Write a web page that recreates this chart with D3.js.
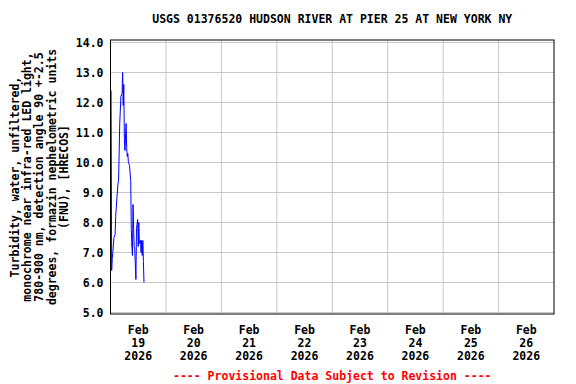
<!DOCTYPE html>
<html>
<head>
<meta charset="utf-8">
<script src="https://cdn.jsdelivr.net/npm/d3@7"></script>
<style>
  body { margin: 0; background: #fff; }
  text { font-family: "DejaVu Sans Mono", monospace; font-weight: bold; }
</style>
</head>
<body>
<div id="chart"></div>
<script>
// chart text
let title = "USGS 01376520 HUDSON RIVER AT PIER 25 AT NEW YORK NY";
let yLabelLines = [
  "Turbidity, water, unfiltered,",
  "monochrome near infra-red LED light,",
  "780-900 nm, detection angle 90 +-2.5",
  "degrees, formazin nephelometric units",
  "(FNU), [HRECOS]"
];
let footer = "---- Provisional Data Subject to Revision ----";

// axis values
let yTicks = [5, 6, 7, 8, 9, 10, 11, 12, 13, 14];
let dayTicks = ["2026-02-19", "2026-02-20", "2026-02-21", "2026-02-22",
  "2026-02-23", "2026-02-24", "2026-02-25", "2026-02-26"];

// turbidity readings, Feb 19 2026 (time of day, FNU)
let times = ["00:15", "00:30", "00:45", "01:00", "01:30", "02:00", "02:15", "02:45",
  "03:15", "03:30", "04:00", "04:30", "05:00", "05:15", "05:30", "05:45",
  "06:00", "06:15", "06:45", "07:00", "07:15", "07:30", "07:45", "08:15",
  "08:45", "09:00", "09:15", "09:30", "09:45", "10:00", "10:15", "10:30",
  "11:00", "11:15", "11:45", "12:00", "12:15", "12:30", "13:00", "13:15",
  "13:30", "13:45", "14:00", "14:15", "14:30"];
let values = [12.4, 6.4, 6.8, 7.0, 7.5, 7.6, 8.2, 8.8,
  9.3, 9.4, 11.3, 12.2, 12.3, 13.0, 11.9, 12.6,
  10.8, 10.4, 11.3, 10.5, 10.2, 10.3, 10.0, 9.9,
  9.4, 7.8, 7.2, 6.9, 8.6, 7.8, 7.2, 7.1,
  6.1, 7.8, 8.1, 7.2, 8.0, 7.3, 7.4, 7.0,
  7.4, 6.9, 7.4, 6.7, 6.0];

let svgWidth = 576;
let svgHeight = 384;
let frame = { left: 110.5, right: 554, top: 40, bottom: 314 };

let parseTime = d3.utcParse("%Y-%m-%d %H:%M");
let parseDay = d3.utcParse("%Y-%m-%d");

let data = times.map((t, i) => ({ date: parseTime("2026-02-19 " + t), value: values[i] }));

let svg = d3.select("#chart")
  .append("svg")
  .attr("width", svgWidth)
  .attr("height", svgHeight);

let x = d3.scaleUtc()
  .domain([parseDay("2026-02-19"), parseDay("2026-02-27")])
  .range([frame.left, frame.right]);

let y = d3.scaleLinear()
  .domain([5, 14])
  .range([312.5, 42.5]);

// horizontal grid
svg.append("g")
  .selectAll("line")
  .data(yTicks)
  .join("line")
  .attr("x1", frame.left)
  .attr("x2", frame.right)
  .attr("y1", d => y(d))
  .attr("y2", d => y(d))
  .attr("stroke", "#c8c8c8")
  .attr("stroke-width", 1);

// vertical grid at midnight
let midnights = dayTicks.map(parseDay).slice(1);
svg.append("g")
  .selectAll("line")
  .data(midnights)
  .join("line")
  .attr("x1", d => x(d))
  .attr("x2", d => x(d))
  .attr("y1", frame.top)
  .attr("y2", frame.bottom)
  .attr("stroke", "#c8c8c8")
  .attr("stroke-width", 1);

// y axis labels
let yAxis = d3.axisLeft(y)
  .tickValues(yTicks)
  .tickSize(0)
  .tickPadding(7)
  .tickFormat(d3.format(".1f"));

svg.append("g")
  .attr("transform", `translate(${frame.left}, 0)`)
  .call(yAxis)
  .call(g => g.select(".domain").remove())
  .selectAll("text")
  .attr("font-family", "DejaVu Sans Mono")
  .attr("font-weight", "bold")
  .attr("font-size", "11.5px")
  .attr("fill", "#000");

// x labels at noon of each day
let noonLabels = svg.append("g")
  .selectAll("text")
  .data(dayTicks.map(parseDay))
  .join("text")
  .attr("x", d => x(d3.utcHour.offset(d, 12)))
  .attr("y", 334)
  .attr("text-anchor", "middle")
  .attr("font-size", "11.5px");

noonLabels.append("tspan")
  .attr("x", d => x(d3.utcHour.offset(d, 12)))
  .text(d3.utcFormat("%b"));
noonLabels.append("tspan")
  .attr("x", d => x(d3.utcHour.offset(d, 12)))
  .attr("dy", 13)
  .text(d3.utcFormat("%d"));
noonLabels.append("tspan")
  .attr("x", d => x(d3.utcHour.offset(d, 12)))
  .attr("dy", 13)
  .text(d3.utcFormat("%Y"));

// data line
let line = d3.line()
  .x(d => x(d.date))
  .y(d => y(d.value));

svg.append("path")
  .datum(data)
  .attr("d", line)
  .attr("fill", "none")
  .attr("stroke", "#0000ff")
  .attr("stroke-width", 1);

// frame
svg.append("rect")
  .attr("x", frame.left)
  .attr("y", frame.top)
  .attr("width", frame.right - frame.left)
  .attr("height", frame.bottom - frame.top)
  .attr("fill", "none")
  .attr("stroke", "#000")
  .attr("stroke-width", 1);

// title
svg.append("text")
  .attr("x", (frame.left + frame.right) / 2)
  .attr("y", 23)
  .attr("text-anchor", "middle")
  .attr("font-size", "11.5px")
  .text(title);

// y axis title, rotated
let yCenter = (frame.top + frame.bottom) / 2;
svg.append("g")
  .attr("transform", `translate(19, ${yCenter}) rotate(-90)`)
  .selectAll("text")
  .data(yLabelLines)
  .join("text")
  .attr("x", 0)
  .attr("y", (d, i) => i * 12.2)
  .attr("text-anchor", "middle")
  .attr("font-size", "11.5px")
  .text(d => d);

// footer
svg.append("text")
  .attr("x", (frame.left + frame.right) / 2)
  .attr("y", 380)
  .attr("text-anchor", "middle")
  .attr("font-size", "11.5px")
  .attr("fill", "#ff0000")
  .text(footer);
</script>
</body>
</html>
